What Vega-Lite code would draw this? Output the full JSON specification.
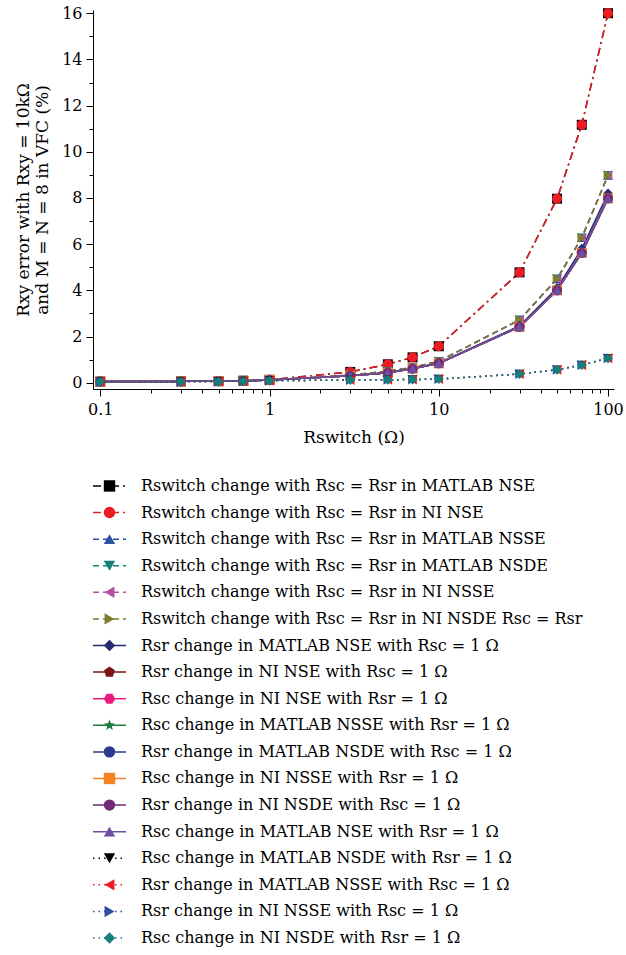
{
  "$schema": "https://vega.github.io/schema/vega-lite/v6.json",
  "background": "white",
  "padding": {"left": 14, "top": 5, "right": 2, "bottom": 5},
  "config": {
    "font": "DejaVu Serif",
    "axis": {"labelFont": "DejaVu Serif", "titleFont": "DejaVu Serif"},
    "text": {"font": "DejaVu Serif"},
    "view": {"stroke": null},
    "concat": {"spacing": 21}
  },
  "datasets": {
    "names": [
      {"k": 1, "name": "Rswitch change with Rsc = Rsr in MATLAB NSE"},
      {"k": 2, "name": "Rswitch change with Rsc = Rsr in NI NSE"},
      {"k": 3, "name": "Rswitch change with Rsc = Rsr in MATLAB NSSE"},
      {"k": 4, "name": "Rswitch change with Rsc = Rsr in MATLAB NSDE"},
      {"k": 5, "name": "Rswitch change with Rsc = Rsr in NI NSSE"},
      {"k": 6, "name": "Rswitch change with Rsc = Rsr in NI NSDE Rsc = Rsr"},
      {"k": 7, "name": "Rsr change in MATLAB NSE with Rsc = 1 Ω"},
      {"k": 8, "name": "Rsr change in NI NSE with Rsc = 1 Ω"},
      {"k": 9, "name": "Rsc change in NI NSE with Rsr = 1 Ω"},
      {"k": 10, "name": "Rsc change in MATLAB NSSE with Rsr = 1 Ω"},
      {"k": 11, "name": "Rsr change in MATLAB NSDE with Rsc = 1 Ω"},
      {"k": 12, "name": "Rsc change in NI NSSE with Rsr = 1 Ω"},
      {"k": 13, "name": "Rsr change in NI NSDE with Rsc = 1 Ω"},
      {"k": 14, "name": "Rsc change in MATLAB NSE with Rsr = 1 Ω"},
      {"k": 15, "name": "Rsc change in MATLAB NSDE with Rsr = 1 Ω"},
      {"k": 16, "name": "Rsr change in MATLAB NSSE with Rsc = 1 Ω"},
      {"k": 17, "name": "Rsr change in NI NSSE with Rsc = 1 Ω"},
      {"k": 18, "name": "Rsc change in NI NSDE with Rsr = 1 Ω"}
    ],
    "pts": [
      {"k":1,"x":0.1,"y":0.05},{"k":1,"x":0.3,"y":0.06},{"k":1,"x":0.5,"y":0.07},{"k":1,"x":0.7,"y":0.09},{"k":1,"x":1,"y":0.13},{"k":1,"x":3,"y":0.47},{"k":1,"x":5,"y":0.8},{"k":1,"x":7,"y":1.1},{"k":1,"x":10,"y":1.58},{"k":1,"x":30,"y":4.78},{"k":1,"x":50,"y":7.97},{"k":1,"x":70,"y":11.17},{"k":1,"x":100,"y":16.0},
      {"k":2,"x":0.1,"y":0.05},{"k":2,"x":0.3,"y":0.06},{"k":2,"x":0.5,"y":0.07},{"k":2,"x":0.7,"y":0.09},{"k":2,"x":1,"y":0.13},{"k":2,"x":3,"y":0.47},{"k":2,"x":5,"y":0.8},{"k":2,"x":7,"y":1.1},{"k":2,"x":10,"y":1.58},{"k":2,"x":30,"y":4.78},{"k":2,"x":50,"y":7.97},{"k":2,"x":70,"y":11.17},{"k":2,"x":100,"y":16.0},
      {"k":3,"x":0.1,"y":0.05},{"k":3,"x":0.3,"y":0.06},{"k":3,"x":0.5,"y":0.07},{"k":3,"x":0.7,"y":0.08},{"k":3,"x":1,"y":0.12},{"k":3,"x":3,"y":0.33},{"k":3,"x":5,"y":0.5},{"k":3,"x":7,"y":0.66},{"k":3,"x":10,"y":0.93},{"k":3,"x":30,"y":2.72},{"k":3,"x":50,"y":4.5},{"k":3,"x":70,"y":6.28},{"k":3,"x":100,"y":8.98},
      {"k":4,"x":0.1,"y":0.05},{"k":4,"x":0.3,"y":0.06},{"k":4,"x":0.5,"y":0.07},{"k":4,"x":0.7,"y":0.08},{"k":4,"x":1,"y":0.12},{"k":4,"x":3,"y":0.33},{"k":4,"x":5,"y":0.5},{"k":4,"x":7,"y":0.66},{"k":4,"x":10,"y":0.93},{"k":4,"x":30,"y":2.72},{"k":4,"x":50,"y":4.5},{"k":4,"x":70,"y":6.28},{"k":4,"x":100,"y":8.98},
      {"k":5,"x":0.1,"y":0.05},{"k":5,"x":0.3,"y":0.06},{"k":5,"x":0.5,"y":0.07},{"k":5,"x":0.7,"y":0.08},{"k":5,"x":1,"y":0.12},{"k":5,"x":3,"y":0.33},{"k":5,"x":5,"y":0.5},{"k":5,"x":7,"y":0.66},{"k":5,"x":10,"y":0.93},{"k":5,"x":30,"y":2.72},{"k":5,"x":50,"y":4.5},{"k":5,"x":70,"y":6.28},{"k":5,"x":100,"y":8.98},
      {"k":6,"x":0.1,"y":0.05},{"k":6,"x":0.3,"y":0.06},{"k":6,"x":0.5,"y":0.07},{"k":6,"x":0.7,"y":0.08},{"k":6,"x":1,"y":0.12},{"k":6,"x":3,"y":0.33},{"k":6,"x":5,"y":0.5},{"k":6,"x":7,"y":0.66},{"k":6,"x":10,"y":0.93},{"k":6,"x":30,"y":2.72},{"k":6,"x":50,"y":4.5},{"k":6,"x":70,"y":6.28},{"k":6,"x":100,"y":8.98},
      {"k":7,"x":0.1,"y":0.05},{"k":7,"x":0.3,"y":0.06},{"k":7,"x":0.5,"y":0.07},{"k":7,"x":0.7,"y":0.08},{"k":7,"x":1,"y":0.12},{"k":7,"x":3,"y":0.3},{"k":7,"x":5,"y":0.45},{"k":7,"x":7,"y":0.63},{"k":7,"x":10,"y":0.86},{"k":7,"x":30,"y":2.46},{"k":7,"x":50,"y":4.1},{"k":7,"x":70,"y":5.8},{"k":7,"x":100,"y":8.2},
      {"k":8,"x":0.1,"y":0.05},{"k":8,"x":0.3,"y":0.06},{"k":8,"x":0.5,"y":0.07},{"k":8,"x":0.7,"y":0.08},{"k":8,"x":1,"y":0.12},{"k":8,"x":3,"y":0.3},{"k":8,"x":5,"y":0.43},{"k":8,"x":7,"y":0.61},{"k":8,"x":10,"y":0.84},{"k":8,"x":30,"y":2.42},{"k":8,"x":50,"y":4.0},{"k":8,"x":70,"y":5.62},{"k":8,"x":100,"y":7.98},
      {"k":9,"x":0.1,"y":0.05},{"k":9,"x":0.3,"y":0.06},{"k":9,"x":0.5,"y":0.07},{"k":9,"x":0.7,"y":0.08},{"k":9,"x":1,"y":0.12},{"k":9,"x":3,"y":0.3},{"k":9,"x":5,"y":0.43},{"k":9,"x":7,"y":0.61},{"k":9,"x":10,"y":0.84},{"k":9,"x":30,"y":2.42},{"k":9,"x":50,"y":4.0},{"k":9,"x":70,"y":5.62},{"k":9,"x":100,"y":7.98},
      {"k":10,"x":0.1,"y":0.05},{"k":10,"x":0.3,"y":0.06},{"k":10,"x":0.5,"y":0.07},{"k":10,"x":0.7,"y":0.08},{"k":10,"x":1,"y":0.12},{"k":10,"x":3,"y":0.3},{"k":10,"x":5,"y":0.43},{"k":10,"x":7,"y":0.61},{"k":10,"x":10,"y":0.84},{"k":10,"x":30,"y":2.42},{"k":10,"x":50,"y":4.0},{"k":10,"x":70,"y":5.62},{"k":10,"x":100,"y":7.98},
      {"k":11,"x":0.1,"y":0.05},{"k":11,"x":0.3,"y":0.06},{"k":11,"x":0.5,"y":0.07},{"k":11,"x":0.7,"y":0.08},{"k":11,"x":1,"y":0.12},{"k":11,"x":3,"y":0.3},{"k":11,"x":5,"y":0.43},{"k":11,"x":7,"y":0.61},{"k":11,"x":10,"y":0.84},{"k":11,"x":30,"y":2.42},{"k":11,"x":50,"y":4.02},{"k":11,"x":70,"y":5.66},{"k":11,"x":100,"y":8.02},
      {"k":12,"x":0.1,"y":0.05},{"k":12,"x":0.3,"y":0.06},{"k":12,"x":0.5,"y":0.07},{"k":12,"x":0.7,"y":0.08},{"k":12,"x":1,"y":0.12},{"k":12,"x":3,"y":0.3},{"k":12,"x":5,"y":0.43},{"k":12,"x":7,"y":0.61},{"k":12,"x":10,"y":0.84},{"k":12,"x":30,"y":2.42},{"k":12,"x":50,"y":4.0},{"k":12,"x":70,"y":5.62},{"k":12,"x":100,"y":7.98},
      {"k":13,"x":0.1,"y":0.05},{"k":13,"x":0.3,"y":0.06},{"k":13,"x":0.5,"y":0.07},{"k":13,"x":0.7,"y":0.08},{"k":13,"x":1,"y":0.12},{"k":13,"x":3,"y":0.3},{"k":13,"x":5,"y":0.43},{"k":13,"x":7,"y":0.61},{"k":13,"x":10,"y":0.84},{"k":13,"x":30,"y":2.42},{"k":13,"x":50,"y":4.0},{"k":13,"x":70,"y":5.62},{"k":13,"x":100,"y":7.98},
      {"k":14,"x":0.1,"y":0.05},{"k":14,"x":0.3,"y":0.06},{"k":14,"x":0.5,"y":0.07},{"k":14,"x":0.7,"y":0.08},{"k":14,"x":1,"y":0.12},{"k":14,"x":3,"y":0.3},{"k":14,"x":5,"y":0.43},{"k":14,"x":7,"y":0.61},{"k":14,"x":10,"y":0.84},{"k":14,"x":30,"y":2.42},{"k":14,"x":50,"y":4.0},{"k":14,"x":70,"y":5.62},{"k":14,"x":100,"y":7.98},
      {"k":15,"x":0.1,"y":0.04},{"k":15,"x":0.3,"y":0.05},{"k":15,"x":0.5,"y":0.06},{"k":15,"x":0.7,"y":0.07},{"k":15,"x":1,"y":0.09},{"k":15,"x":3,"y":0.12},{"k":15,"x":5,"y":0.13},{"k":15,"x":7,"y":0.14},{"k":15,"x":10,"y":0.16},{"k":15,"x":30,"y":0.38},{"k":15,"x":50,"y":0.56},{"k":15,"x":70,"y":0.77},{"k":15,"x":100,"y":1.06},
      {"k":16,"x":0.1,"y":0.04},{"k":16,"x":0.3,"y":0.05},{"k":16,"x":0.5,"y":0.06},{"k":16,"x":0.7,"y":0.07},{"k":16,"x":1,"y":0.09},{"k":16,"x":3,"y":0.12},{"k":16,"x":5,"y":0.13},{"k":16,"x":7,"y":0.14},{"k":16,"x":10,"y":0.16},{"k":16,"x":30,"y":0.38},{"k":16,"x":50,"y":0.56},{"k":16,"x":70,"y":0.77},{"k":16,"x":100,"y":1.06},
      {"k":17,"x":0.1,"y":0.04},{"k":17,"x":0.3,"y":0.05},{"k":17,"x":0.5,"y":0.06},{"k":17,"x":0.7,"y":0.07},{"k":17,"x":1,"y":0.09},{"k":17,"x":3,"y":0.12},{"k":17,"x":5,"y":0.13},{"k":17,"x":7,"y":0.14},{"k":17,"x":10,"y":0.16},{"k":17,"x":30,"y":0.38},{"k":17,"x":50,"y":0.56},{"k":17,"x":70,"y":0.77},{"k":17,"x":100,"y":1.06},
      {"k":18,"x":0.1,"y":0.04},{"k":18,"x":0.3,"y":0.05},{"k":18,"x":0.5,"y":0.06},{"k":18,"x":0.7,"y":0.07},{"k":18,"x":1,"y":0.09},{"k":18,"x":3,"y":0.12},{"k":18,"x":5,"y":0.13},{"k":18,"x":7,"y":0.14},{"k":18,"x":10,"y":0.16},{"k":18,"x":30,"y":0.38},{"k":18,"x":50,"y":0.56},{"k":18,"x":70,"y":0.77},{"k":18,"x":100,"y":1.06}
    ]
  },
  "vconcat": [
    {
      "width": 521,
      "height": 379,
      "data": {"name": "pts"},
      "encoding": {
        "x": {
          "field": "x", "type": "quantitative",
          "scale": {"type": "log", "domain": [0.0906, 108.5], "nice": false},
          "axis": {
            "title": "Rswitch (Ω)",
            "titleFontSize": 17, "titleFontWeight": "normal", "titleColor": "black", "titlePadding": 12,
            "values": [0.1,0.2,0.3,0.4,0.5,0.6,0.7,0.8,0.9,1,2,3,4,5,6,7,8,9,10,20,30,40,50,60,70,80,90,100],
            "format": "~g",
            "labelExpr": "indexof([0.1,1,10,100], datum.value) >= 0 ? datum.label : ''",
            "labelFontSize": 16, "labelColor": "black", "labelFlush": false, "labelOverlap": false, "labelPadding": 5,
            "tickSize": {"condition": {"test": "indexof([0.1,1,10,100], datum.value) < 0", "value": 4}, "value": 7},
            "tickColor": "black", "domainColor": "black", "grid": false
          }
        },
        "y": {
          "field": "y", "type": "quantitative",
          "scale": {"domain": [-0.27, 16.14], "nice": false, "zero": false},
          "axis": {
            "title": ["Rxy error with Rxy = 10kΩ", "and M = N = 8 in VFC (%)"],
            "titleFontSize": 17, "titleFontWeight": "normal", "titleColor": "black", "titlePadding": 10,
            "values": [0,1,2,3,4,5,6,7,8,9,10,11,12,13,14,15,16],
            "labelExpr": "datum.value % 2 == 0 ? datum.label : ''",
            "labelFontSize": 16, "labelColor": "black", "labelPadding": 4, "labelOverlap": false,
            "tickSize": {"condition": {"test": "datum.value % 2 == 1", "value": 4}, "value": 7},
            "tickColor": "black", "domainColor": "black", "grid": false
          }
        },
        "color": {
          "field": "k", "type": "nominal", "legend": null,
          "scale": {
            "domain": [1,2,3,4,5,6,7,8,9,10,11,12,13,14,15,16,17,18],
            "range": ["#000000","#ed1c24","#2e4fa3","#13807a","#b84fa0","#7d7d2e","#262a6e","#7a1517","#ea1a7f","#1b7c3d","#2b3990","#f68121","#722a77","#6a4fa3","#000000","#ed1c24","#2e4fa3","#13807a"]
          }
        }
      },
      "layer": [
        {
          "mark": {"type": "line"},
          "encoding": {
            "detail": {"field": "k", "type": "nominal"},
            "strokeDash": {
              "field": "k", "type": "nominal", "legend": null,
              "scale": {
                "domain": [1,2,3,4,5,6,7,8,9,10,11,12,13,14,15,16,17,18],
                "range": [[8,4,2,4],[8,4,2,4],[6,4],[6,4],[6,4],[6,4],[1,0],[1,0],[1,0],[1,0],[1,0],[1,0],[1,0],[1,0],[1.5,4],[1.5,4],[1.5,4],[1.5,4]]
              }
            },
            "strokeWidth": {
              "field": "k", "type": "nominal", "legend": null,
              "scale": {
                "domain": [1,2,3,4,5,6,7,8,9,10,11,12,13,14,15,16,17,18],
                "range": [1.5,1.5,1.6,1.6,1.6,1.6,2.5,2.5,2.5,2.5,2.5,2.5,2.5,2.5,1.8,1.8,1.8,1.8]
              }
            }
          }
        },
        {
          "mark": {"type": "point", "filled": true, "opacity": 1, "size": 100},
          "encoding": {
            "shape": {
              "field": "k", "type": "nominal", "legend": null,
              "scale": {
                "domain": [1,2,3,4,5,6,7,8,9,10,11,12,13,14,15,16,17,18],
                "range": ["square","circle","triangle-up","triangle-down","triangle-left","triangle-right","diamond",
                  "M0,-1L0.951,-0.309L0.588,0.809L-0.588,0.809L-0.951,-0.309Z",
                  "M-1,0L-0.5,-0.866L0.5,-0.866L1,0L0.5,0.866L-0.5,0.866Z",
                  "M0,-1L0.247,-0.34L0.951,-0.309L0.399,0.13L0.588,0.809L0,0.42L-0.588,0.809L-0.399,0.13L-0.951,-0.309L-0.247,-0.34Z",
                  "circle","square","circle","triangle-up","triangle-down","triangle-left","triangle-right","diamond"]
              }
            }
          }
        }
      ]
    },
    {
      "width": 521,
      "height": 492,
      "data": {"name": "pts"},
      "transform": [
        {"filter": "datum.x == 100"},
        {"lookup": "k", "from": {"data": {"name": "names"}, "key": "k", "fields": ["name"]}}
      ],
      "encoding": {
        "y": {"field": "k", "type": "nominal", "axis": null, "scale": {"domain": [1,2,3,4,5,6,7,8,9,10,11,12,13,14,15,16,17,18], "padding": 0.5}},
        "color": {"field": "k", "type": "nominal", "legend": null}
      },
      "layer": [
        {
          "mark": {"type": "rule"},
          "encoding": {
            "x": {"datum": 0, "type": "quantitative", "scale": {"domain": [0, 521], "nice": false}, "axis": null},
            "x2": {"datum": 33},
            "strokeDash": {"field": "k", "type": "nominal", "legend": null},
            "strokeWidth": {"field": "k", "type": "nominal", "legend": null}
          }
        },
        {
          "mark": {"type": "point", "filled": true, "opacity": 1, "size": 130},
          "encoding": {
            "x": {"datum": 16.5, "type": "quantitative"},
            "shape": {"field": "k", "type": "nominal", "legend": null}
          }
        },
        {
          "mark": {"type": "text", "align": "left", "baseline": "middle", "fontSize": 16, "font": "DejaVu Serif"},
          "encoding": {
            "x": {"datum": 48, "type": "quantitative"},
            "text": {"field": "name", "type": "nominal"},
            "color": {"value": "black"}
          }
        }
      ]
    }
  ]
}
